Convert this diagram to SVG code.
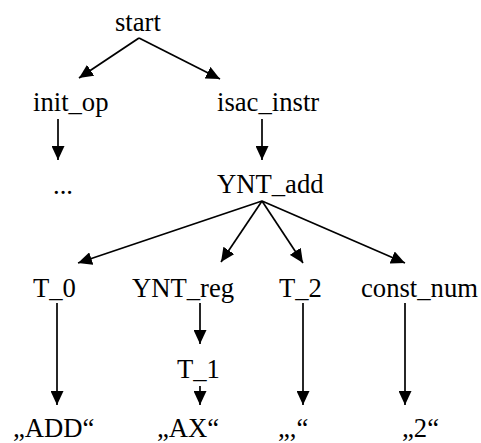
<svg xmlns="http://www.w3.org/2000/svg" width="481" height="443" viewBox="0 0 481 443">
  <style>
    text { font-family: "Liberation Serif", "Times New Roman", serif; font-size: 26.67px; fill: #000; }
    .edge { stroke: #000; stroke-width: 1.7; fill: none; marker-end: url(#arrow); }
  </style>
  <defs>
    <marker id="arrow" viewBox="0 0 14 13" refX="14" refY="6.5" markerWidth="14" markerHeight="13" markerUnits="userSpaceOnUse" orient="auto">
      <path d="M0,0 L14,6.5 L0,13 z" fill="#000"/>
    </marker>
  </defs>
  <rect width="481" height="443" fill="#fff"/>

  <g id="connectors">
    <line class="edge" x1="139" y1="38" x2="79" y2="78"/>
    <line class="edge" x1="139" y1="38" x2="220" y2="79"/>
    <line class="edge" x1="58" y1="119" x2="58" y2="160"/>
    <line class="edge" x1="262" y1="119" x2="262" y2="160"/>
    <line class="edge" x1="262" y1="201" x2="78" y2="263"/>
    <line class="edge" x1="262" y1="201" x2="221" y2="262"/>
    <line class="edge" x1="262" y1="201" x2="303" y2="263"/>
    <line class="edge" x1="262" y1="201" x2="405" y2="263"/>
    <line class="edge" x1="57" y1="303" x2="57" y2="405"/>
    <line class="edge" x1="200" y1="303" x2="200" y2="344"/>
    <line class="edge" x1="303" y1="303" x2="303" y2="405"/>
    <line class="edge" x1="405" y1="303" x2="405" y2="405"/>
    <line class="edge" x1="200" y1="386" x2="200" y2="405"/>
  </g>

  <g font-family="'Liberation Serif', 'Times New Roman', serif">
    <g id="start"><text x="115" y="31">start</text></g>
    <g id="init_op"><text x="33" y="111">init_op</text></g>
    <g id="isac_instr"><text x="217" y="111">isac_instr</text></g>
    <g id="ellipsis"><text x="53" y="194">...</text></g>
    <g id="YNT_add"><text x="217" y="193">YNT_add</text></g>
    <g id="T_0"><text x="33" y="297">T_0</text></g>
    <g id="YNT_reg"><text x="132" y="297">YNT_reg</text></g>
    <g id="T_2"><text x="279" y="297">T_2</text></g>
    <g id="const_num"><text x="361" y="297">const_num</text></g>
    <g id="T_1"><text x="177" y="378">T_1</text></g>
    <g id="lit_ADD"><text x="13" y="437">„ADD“</text></g>
    <g id="lit_AX"><text x="157" y="437">„AX“</text></g>
    <g id="lit_comma"><text x="278" y="437">„,“</text></g>
    <g id="lit_2"><text x="402" y="437">„2“</text></g>
  </g>
</svg>
